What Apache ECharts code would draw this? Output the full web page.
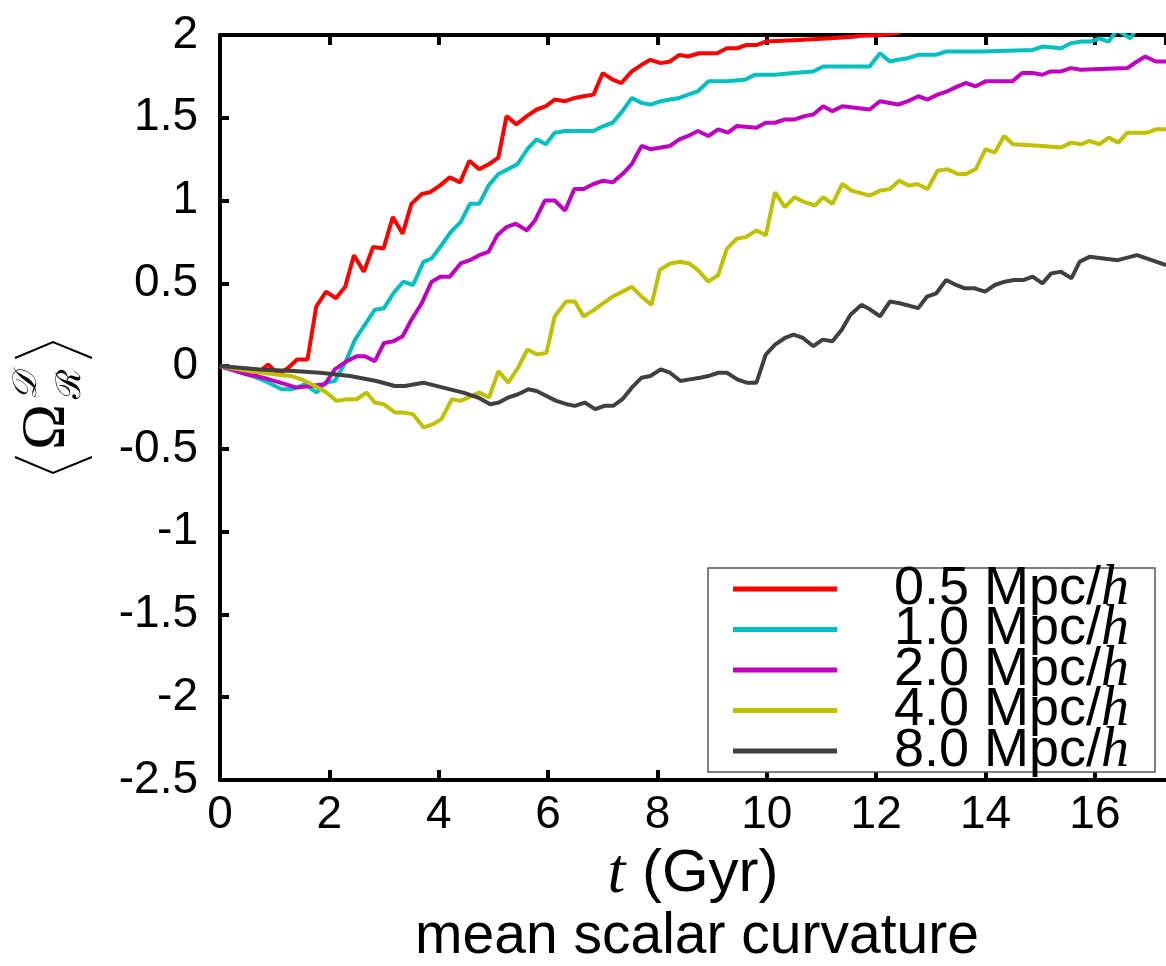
<!DOCTYPE html>
<html>
<head>
<meta charset="utf-8">
<script src="https://cdn.jsdelivr.net/npm/echarts@6/dist/echarts.min.js"></script>
<style>
  html, body { margin: 0; padding: 0; background: #fff; }
  #chart { width: 1166px; height: 966px; }
</style>
</head>
<body>
<div id="chart"></div>
<script>
// smoothing scales (Mpc/h), one curve each
var scales = ['0.5', '1.0', '2.0', '4.0', '8.0'];
var colors = ['#ff0000', '#00c0c0', '#c000c0', '#c0c000', '#404040'];

var xTicks = [0, 2, 4, 6, 8, 10, 12, 14, 16];
var yTicks = [-2.5, -2, -1.5, -1, -0.5, 0, 0.5, 1, 1.5, 2];

// [t (Gyr), <Omega_R>]
var r05 = [[0,0],[0.61,-0.06],[0.88,0.01],[1.07,-0.05],[1.25,-0.01],[1.41,0.04],[1.60,0.04],[1.76,0.36],[1.94,0.45],[2.12,0.41],[2.29,0.48],[2.45,0.67],[2.63,0.57],[2.80,0.72],[2.99,0.71],[3.16,0.90],[3.34,0.80],[3.50,0.98],[3.69,1.04],[3.84,1.05],[4.02,1.09],[4.20,1.14],[4.39,1.11],[4.56,1.24],[4.74,1.19],[4.92,1.22],[5.09,1.26],[5.24,1.51],[5.42,1.46],[5.61,1.51],[5.79,1.55],[5.96,1.57],[6.12,1.61],[6.31,1.60],[6.49,1.62],[6.65,1.63],[6.83,1.64],[7.00,1.77],[7.18,1.73],[7.34,1.71],[7.53,1.78],[7.71,1.82],[7.87,1.85],[8.06,1.83],[8.23,1.84],[8.40,1.88],[8.56,1.87],[8.76,1.89],[9.09,1.89],[9.27,1.92],[9.46,1.92],[9.63,1.94],[9.82,1.94],[9.98,1.96],[10.58,1.97],[11.17,1.98],[11.57,1.99],[11.70,1.995],[12.09,2.0],[12.36,2.01],[12.6,2.04]];
var c10 = [[0,0],[0.52,-0.05],[0.82,-0.09],[1.13,-0.14],[1.31,-0.14],[1.55,-0.11],[1.77,-0.16],[1.92,-0.10],[2.10,-0.09],[2.29,0.02],[2.47,0.16],[2.65,0.25],[2.83,0.34],[3.00,0.35],[3.17,0.44],[3.35,0.51],[3.53,0.49],[3.72,0.63],[3.87,0.65],[4.05,0.73],[4.22,0.81],[4.40,0.87],[4.57,0.98],[4.74,0.98],[4.91,1.09],[5.09,1.16],[5.27,1.19],[5.44,1.22],[5.62,1.31],[5.79,1.37],[5.96,1.34],[6.12,1.41],[6.31,1.42],[6.64,1.42],[6.83,1.42],[7.01,1.45],[7.18,1.47],[7.36,1.54],[7.53,1.62],[7.71,1.59],[7.87,1.58],[8.06,1.60],[8.23,1.61],[8.40,1.62],[8.56,1.64],[8.74,1.66],[8.93,1.72],[9.26,1.72],[9.60,1.73],[9.78,1.76],[9.96,1.76],[10.15,1.76],[10.48,1.77],[10.85,1.78],[11.03,1.81],[11.21,1.81],[11.55,1.81],[11.88,1.81],[12.07,1.89],[12.25,1.84],[12.40,1.85],[12.58,1.86],[12.77,1.88],[13.09,1.88],[13.27,1.90],[13.94,1.90],[14.86,1.91],[15.04,1.93],[15.38,1.92],[15.56,1.95],[15.74,1.96],[15.92,1.96],[16.08,1.98],[16.25,1.96],[16.40,2.03],[16.55,2.0],[16.65,1.98],[16.8,2.06]];
var m20 = [[0,0],[0.49,-0.05],[0.79,-0.07],[1.10,-0.10],[1.40,-0.13],[1.65,-0.12],[1.92,-0.11],[2.10,-0.02],[2.32,0.03],[2.50,0.06],[2.65,0.06],[2.83,0.03],[3.00,0.14],[3.17,0.15],[3.34,0.18],[3.50,0.28],[3.69,0.38],[3.87,0.51],[4.03,0.54],[4.20,0.54],[4.40,0.62],[4.57,0.64],[4.74,0.67],[4.91,0.69],[5.07,0.79],[5.24,0.84],[5.41,0.86],[5.61,0.82],[5.76,0.88],[5.94,1.00],[6.12,1.00],[6.31,0.94],[6.48,1.07],[6.65,1.07],[6.83,1.10],[7.01,1.12],[7.18,1.11],[7.36,1.16],[7.53,1.22],[7.71,1.33],[7.87,1.31],[8.06,1.32],[8.23,1.33],[8.40,1.37],[8.56,1.39],[8.74,1.42],[8.93,1.39],[9.11,1.43],[9.29,1.41],[9.45,1.45],[9.81,1.44],[9.98,1.47],[10.15,1.47],[10.33,1.49],[10.51,1.49],[10.69,1.51],[10.85,1.52],[11.03,1.57],[11.20,1.54],[11.38,1.57],[11.88,1.55],[12.07,1.60],[12.40,1.58],[12.58,1.60],[12.77,1.63],[12.94,1.61],[13.12,1.64],[13.30,1.66],[13.49,1.69],[13.64,1.71],[13.82,1.69],[14.00,1.72],[14.19,1.72],[14.49,1.72],[14.67,1.77],[14.86,1.77],[15.04,1.76],[15.19,1.78],[15.38,1.78],[15.56,1.80],[15.74,1.79],[16.59,1.80],[16.77,1.84],[16.92,1.87],[17.11,1.84],[17.3,1.84]];
var y40 = [[0,0],[0.52,-0.03],[1.01,-0.05],[1.31,-0.06],[1.49,-0.08],[1.74,-0.12],[1.95,-0.16],[2.13,-0.21],[2.32,-0.20],[2.50,-0.20],[2.68,-0.16],[2.83,-0.22],[2.99,-0.23],[3.20,-0.28],[3.35,-0.28],[3.53,-0.29],[3.72,-0.37],[3.90,-0.35],[4.05,-0.32],[4.24,-0.20],[4.40,-0.21],[4.74,-0.16],[4.92,-0.19],[5.09,-0.03],[5.27,-0.10],[5.45,-0.01],[5.62,0.10],[5.80,0.07],[5.97,0.08],[6.12,0.30],[6.33,0.39],[6.49,0.39],[6.65,0.30],[6.84,0.34],[7.01,0.38],[7.18,0.42],[7.36,0.45],[7.53,0.48],[7.71,0.42],[7.89,0.37],[8.04,0.58],[8.23,0.62],[8.41,0.63],[8.58,0.62],[8.74,0.58],[8.93,0.51],[9.11,0.55],[9.27,0.71],[9.45,0.77],[9.62,0.78],[9.81,0.82],[9.98,0.79],[10.15,1.05],[10.33,0.96],[10.51,1.02],[10.69,0.99],[10.88,0.97],[11.03,1.02],[11.20,0.98],[11.38,1.10],[11.55,1.06],[11.88,1.03],[12.07,1.06],[12.25,1.07],[12.42,1.12],[12.60,1.09],[12.75,1.10],[12.94,1.07],[13.12,1.18],[13.30,1.19],[13.49,1.16],[13.64,1.16],[13.82,1.19],[14.00,1.31],[14.17,1.29],[14.34,1.39],[14.50,1.34],[15.04,1.33],[15.38,1.32],[15.56,1.35],[15.74,1.34],[15.90,1.36],[16.08,1.34],[16.25,1.38],[16.43,1.35],[16.59,1.41],[16.96,1.41],[17.11,1.43],[17.3,1.43]];
var g80 = [[0,0],[0.73,-0.02],[1.34,-0.03],[1.83,-0.04],[2.38,-0.06],[2.86,-0.09],[3.20,-0.12],[3.38,-0.12],[3.72,-0.10],[4.08,-0.13],[4.45,-0.16],[4.72,-0.19],[4.94,-0.23],[5.10,-0.22],[5.27,-0.19],[5.45,-0.17],[5.64,-0.14],[5.79,-0.15],[5.97,-0.18],[6.15,-0.21],[6.34,-0.23],[6.49,-0.24],[6.67,-0.22],[6.86,-0.26],[7.03,-0.24],[7.19,-0.24],[7.36,-0.20],[7.53,-0.13],[7.71,-0.07],[7.87,-0.06],[8.06,-0.02],[8.23,-0.04],[8.42,-0.09],[8.59,-0.08],[8.78,-0.07],[8.93,-0.06],[9.11,-0.04],[9.27,-0.04],[9.46,-0.08],[9.63,-0.10],[9.81,-0.10],[9.98,0.07],[10.15,0.13],[10.33,0.17],[10.49,0.19],[10.66,0.17],[10.85,0.12],[11.02,0.16],[11.20,0.15],[11.37,0.22],[11.53,0.31],[11.73,0.37],[11.90,0.34],[12.07,0.30],[12.25,0.39],[12.43,0.38],[12.77,0.35],[12.93,0.42],[13.10,0.44],[13.28,0.52],[13.46,0.49],[13.62,0.47],[13.80,0.47],[13.99,0.45],[14.17,0.49],[14.35,0.51],[14.52,0.52],[14.69,0.52],[14.86,0.54],[15.04,0.50],[15.20,0.56],[15.38,0.57],[15.57,0.53],[15.72,0.63],[15.90,0.66],[16.42,0.64],[16.77,0.67],[17.3,0.61]];

var seriesData = [r05, c10, m20, y40, g80];

var chart = echarts.init(document.getElementById('chart'), null, { renderer: 'canvas' });

var FONT = 'Liberation Sans';
var axisLineStyle = { color: '#000', width: 4 };

var option = {
  backgroundColor: '#ffffff',
  color: colors,
  animation: false,
  textStyle: { fontFamily: FONT, color: '#000' },
  grid: { left: 220, right: 0, top: 35, bottom: 186 },
  title: {
    text: 'mean scalar curvature',
    left: 692, top: 904, textAlign: 'center',
    textStyle: { fontFamily: FONT, fontSize: 57, fontWeight: 'normal', color: '#000' }
  },
  legend: {
    orient: 'vertical',
    left: 708, top: 561,
    padding: [0, 22, 0, 25],
    itemWidth: 104, itemHeight: 5, itemGap: -15.5,
    icon: 'rect',
    borderWidth: 0,
    data: scales,
    formatter: function (name) { return '{a|' + name + ' Mpc/}{i|h}'; },
    textStyle: {
      fontFamily: FONT, fontSize: 54, color: '#000',
      rich: {
        a: { fontFamily: FONT, fontSize: 54, padding: [0, 0, 0, 52] },
        i: { fontFamily: 'Liberation Serif', fontStyle: 'italic', fontSize: 56 }
      }
    }
  },
  xAxis: [{
    type: 'value', min: 0, max: 17.3, interval: 2,
    position: 'bottom',
    name: '{i|t} (Gyr)', nameLocation: 'middle', nameGap: 56,
    nameTextStyle: {
      fontFamily: FONT, fontSize: 60, color: '#000',
      rich: { i: { fontFamily: 'Liberation Serif', fontStyle: 'italic', fontSize: 64 } }
    },
    axisLine: { onZero: false, lineStyle: axisLineStyle },
    axisTick: { inside: true, length: 10, lineStyle: { width: 4, color: '#000' } },
    axisLabel: {
      fontSize: 46, color: '#000', margin: 12, showMaxLabel: false,
      formatter: function (v) { return xTicks.indexOf(v) >= 0 ? String(v) : ''; }
    },
    splitLine: { show: false }
  }, {
    type: 'value', min: 0, max: 17.3, interval: 2,
    position: 'top',
    axisLine: { onZero: false, lineStyle: axisLineStyle },
    axisTick: { inside: true, length: 10, lineStyle: { width: 4, color: '#000' } },
    axisLabel: { show: false },
    splitLine: { show: false }
  }],
  yAxis: {
    type: 'value', min: -2.5, max: 2, interval: 0.5,
    axisLine: { show: true, lineStyle: axisLineStyle },
    axisTick: { show: true, inside: true, length: 9, lineStyle: { width: 4, color: '#000' } },
    axisLabel: {
      fontSize: 46, color: '#000', margin: 22,
      formatter: function (v) { return yTicks.indexOf(v) >= 0 ? String(v) : ''; }
    },
    splitLine: { show: false }
  },
  graphic: [
    // legend frame
    { type: 'rect', z: 3, shape: { x: 708, y: 568, width: 447, height: 204 },
      style: { fill: '#fff', stroke: '#555', lineWidth: 1.5 } },
    // y-axis label: <Omega^D_R>, rotated
    { type: 'polyline', shape: { points: [[15, 457], [53, 473], [92, 457]] }, style: { stroke: '#000', lineWidth: 2, fill: null } },
    { type: 'polyline', shape: { points: [[15, 358], [53, 342], [92, 358]] }, style: { stroke: '#000', lineWidth: 2, fill: null } },
    { type: 'text', x: 47, y: 427, rotation: Math.PI / 2,
      style: { text: '\u03A9', fontFamily: 'Liberation Serif', fontSize: 62, fill: '#000', textAlign: 'center', textVerticalAlign: 'middle' } },
    { type: 'text', x: 27, y: 386, rotation: Math.PI / 2,
      style: { text: '\uD835\uDC9F', fontFamily: 'DejaVu Serif', fontSize: 34, fontStyle: 'italic', fill: '#000', textAlign: 'center', textVerticalAlign: 'middle' } },
    { type: 'text', x: 71, y: 384, rotation: Math.PI / 2,
      style: { text: '\u211B', fontFamily: 'DejaVu Serif', fontSize: 34, fill: '#000', textAlign: 'center', textVerticalAlign: 'middle' } }
  ],
  series: scales.map(function (s, i) {
    return {
      name: s,
      type: 'line',
      data: seriesData[i],
      showSymbol: false,
      symbol: 'none',
      clip: true,
      lineStyle: { width: 4, color: colors[i] },
      itemStyle: { color: colors[i] }
    };
  })
};

chart.setOption(option);
</script>
</body>
</html>
